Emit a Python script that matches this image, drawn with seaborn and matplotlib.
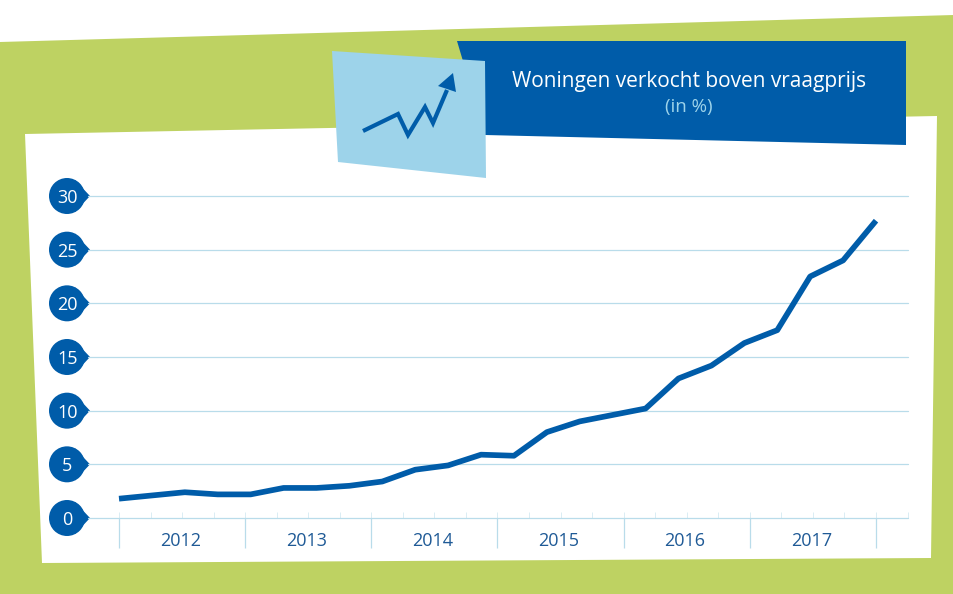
import numpy as np
import pandas as pd
import matplotlib
matplotlib.use("Agg")
import matplotlib.pyplot as plt
from matplotlib.patches import Polygon, Circle
from matplotlib.ticker import MultipleLocator
import seaborn as sns

# ============================================================
# Data
# ============================================================
years = ["2012", "2013", "2014", "2015", "2016", "2017"]
y_ticks = [0, 5, 10, 15, 20, 25, 30]
pct_above_asking = [1.8, 2.1, 2.4, 2.2, 2.2, 2.8, 2.8, 3.0,
                    3.4, 4.5, 4.9, 5.9, 5.8, 8.0, 9.0, 9.6,
                    10.2, 13.0, 14.2, 16.3, 17.5, 22.5, 24.0, 27.7]
title = "Woningen verkocht boven vraagprijs"
subtitle = "(in %)"

GREEN = "#bed262"
BLUE = "#005ca9"
LIGHT = "#9dd3ea"
GRID = "#b9dcea"
YEAR_COL = "#1f5a96"

W, H = 954, 594

sns.set_theme(style="white")
plt.rcParams['font.family'] = ['Open Sans', 'DejaVu Sans']

fig = plt.figure(figsize=(W / 100, H / 100), dpi=100, facecolor="white")

# ============================================================
# Background shapes (pixel coordinates)
# ============================================================
bg = fig.add_axes([0, 0, 1, 1], zorder=0)
bg.set_xlim(0, W)
bg.set_ylim(H, 0)
bg.axis("off")

bg.add_patch(Polygon([(0, 42), (954, 15), (954, 594), (0, 594)], fc=GREEN, ec="none"))
bg.add_patch(Polygon([(25, 134), (937, 116), (931, 558), (42, 563)], fc="white", ec="none"))
bg.add_patch(Polygon([(457, 41), (906, 41), (906, 145), (485, 135)], fc=BLUE, ec="none"))
bg.add_patch(Polygon([(332, 51), (485, 61), (486, 178), (338, 162)], fc=LIGHT, ec="none"))

# little arrow icon on the light blue card
bg.plot([363, 398, 408, 425, 433, 447], [131, 114, 135, 107, 123, 90],
        color=BLUE, lw=3, solid_joinstyle="miter", solid_capstyle="butt")
bg.add_patch(Polygon([(453, 73), (438, 86), (456, 92)], fc=BLUE, ec="none"))

bg.text(689, 82, title, color="white", fontsize=15, ha="center", va="center")
bg.text(689, 107, subtitle, color=LIGHT, fontsize=13.5, ha="center", va="center")

# teardrop badges behind the y tick labels
for t in y_ticks:
    cy = 518 - t * 322 / 30
    bg.add_patch(Circle((67, cy), 18, fc=BLUE, ec="none"))
    bg.add_patch(Polygon([(75, cy - 16), (90, cy), (75, cy + 16)], fc=BLUE, ec="none"))

# ============================================================
# Line chart
# ============================================================
ax = fig.add_axes([88 / W, 1 - 518 / H, 820 / W, 322 / H], zorder=1)
ax.patch.set_alpha(0)

df = pd.DataFrame({"q": np.arange(len(pct_above_asking)), "pct": pct_above_asking})
sns.lineplot(data=df, x="q", y="pct", color=BLUE, lw=4.1, ax=ax,
             solid_capstyle="butt", solid_joinstyle="round", zorder=5, errorbar=None)

step = 757 / 23
ax.set_xlim(-31 / step, 789 / step)
ax.set_ylim(0, 30)
ax.set_xlabel("")
ax.set_ylabel("")

year_w = (len(pct_above_asking) - 1) / len(years)
ax.set_xticks([i * year_w for i in range(len(years) + 1)])
ax.set_xticklabels([])
ax.xaxis.remove_overlapping_locs = False
ax.xaxis.set_minor_locator(MultipleLocator(year_w / 4))
ax.tick_params(axis="x", which="major", direction="out", length=21.6, width=0.9,
               color=GRID, bottom=True)
ax.tick_params(axis="x", which="minor", direction="in", length=4.3, width=0.6,
               color="#d5eaf2", bottom=True)

for i, y in enumerate(years):
    ax.text((i + 0.5) * year_w - 0.05, -0.0714, y, color=YEAR_COL, fontsize=13,
            ha="center", va="center", transform=ax.get_xaxis_transform())

ax.set_yticks(y_ticks)
ax.tick_params(axis="y", length=0, pad=15, labelcolor="white", labelsize=13)
for lab in ax.get_yticklabels():
    lab.set_ha("center")

ax.yaxis.grid(True, color=GRID, lw=0.9)
ax.xaxis.grid(False)
for gl in ax.get_ygridlines():
    gl.set_clip_on(False)
sns.despine(ax=ax, left=True, bottom=True, top=True, right=True)

fig.savefig("out.png", dpi=100)
